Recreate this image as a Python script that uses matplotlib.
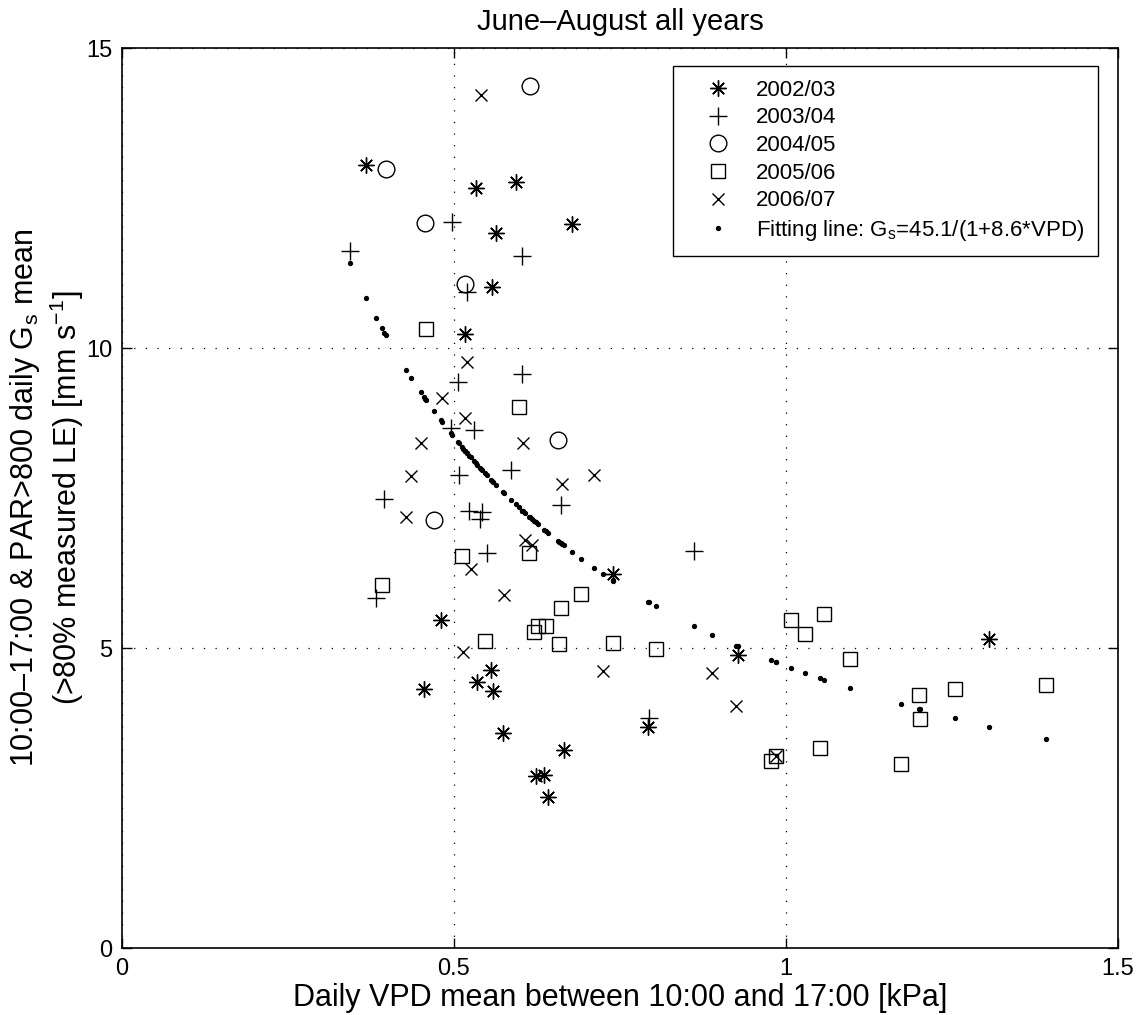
import numpy as np
import matplotlib
matplotlib.use("Agg")
import matplotlib.pyplot as plt

plt.rcParams['font.family'] = ['Liberation Sans', 'DejaVu Sans']
plt.rcParams['mathtext.fontset'] = 'custom'
plt.rcParams['mathtext.rm'] = 'Liberation Sans'
plt.rcParams['mathtext.it'] = 'Liberation Sans'
plt.rcParams['mathtext.default'] = 'regular'

# ---- data (VPD [kPa], Gs [mm s-1]) ----
vpd_0203 = [0.368, 0.533, 0.593, 0.678, 0.563, 0.558, 0.517, 0.739, 0.480, 0.556, 0.535,
            0.455, 0.559, 0.574, 0.665, 0.623, 0.636, 0.641, 0.792, 0.927, 1.306]
gs_0203 = [13.05, 12.66, 12.77, 12.07, 11.92, 11.01, 10.23, 6.24, 5.46, 4.63, 4.44,
           4.32, 4.28, 3.58, 3.30, 2.87, 2.89, 2.51, 3.69, 4.88, 5.15]

vpd_0304 = [0.497, 0.343, 0.603, 0.519, 0.603, 0.506, 0.495, 0.530, 0.507, 0.586, 0.395,
            0.661, 0.523, 0.542, 0.539, 0.549, 0.383, 0.861, 0.794]
gs_0304 = [12.10, 11.62, 11.54, 10.93, 9.56, 9.43, 8.66, 8.64, 7.88, 7.97, 7.49,
           7.38, 7.29, 7.26, 7.15, 6.58, 5.83, 6.61, 3.83]

vpd_0405 = [0.614, 0.397, 0.457, 0.517, 0.657, 0.470]
gs_0405 = [14.36, 12.98, 12.09, 11.07, 8.47, 7.13]

vpd_0506 = [0.458, 0.598, 0.613, 0.512, 0.391, 0.692, 0.661, 0.626, 0.638, 0.620, 0.546,
            0.658, 0.740, 0.804, 1.008, 1.058, 1.028, 1.096, 1.051, 0.985, 0.977, 1.391,
            1.254, 1.201, 1.202, 1.173]
gs_0506 = [10.31, 9.01, 6.59, 6.53, 6.05, 5.90, 5.66, 5.36, 5.36, 5.26, 5.11,
           5.06, 5.09, 4.99, 5.46, 5.57, 5.23, 4.82, 3.34, 3.20, 3.11, 4.39,
           4.32, 4.22, 3.81, 3.06]

vpd_0607 = [0.540, 0.520, 0.482, 0.517, 0.450, 0.604, 0.436, 0.663, 0.711, 0.428, 0.607,
            0.617, 0.525, 0.576, 0.514, 0.725, 0.889, 0.925, 0.985]
gs_0607 = [14.22, 9.76, 9.16, 8.83, 8.41, 8.42, 7.87, 7.74, 7.88, 7.19, 6.80,
           6.71, 6.32, 5.88, 4.93, 4.61, 4.58, 4.04, 3.20]

series_labels = ['2002/03', '2003/04', '2004/05', '2005/06', '2006/07']

# fitted model stated in the legend: Gs = a / (1 + b*VPD), evaluated at observed VPDs
fit_a = 45.1
fit_b = 8.6
fit_vpd = np.array(vpd_0203 + vpd_0304 + vpd_0405 + vpd_0506 + vpd_0607)
fit_gs = fit_a / (1 + fit_b * fit_vpd)

x_ticks = [0, 0.5, 1, 1.5]
x_ticklabels = ['0', '0.5', '1', '1.5']
y_ticks = [0, 5, 10, 15]

# ---- figure ----
fig = plt.figure(figsize=(11.38, 10.15), dpi=100)
ax = fig.add_axes([0.1072, 0.0660, 0.8752, 0.8867])

mk = dict(linestyle='none', color='black', markerfacecolor='none', markeredgewidth=1.0)
ax.plot(vpd_0203, gs_0203, marker=(8, 2, 0), markersize=11.5, label=series_labels[0], **mk)
ax.plot(vpd_0304, gs_0304, marker='+', markersize=13, label=series_labels[1], **mk)
ax.plot(vpd_0405, gs_0405, marker='o', markersize=12, label=series_labels[2], **mk)
ax.plot(vpd_0506, gs_0506, marker='s', markersize=10.5, label=series_labels[3], **mk)
ax.plot(vpd_0607, gs_0607, marker='x', markersize=9, label=series_labels[4], **mk)
ax.plot(fit_vpd, fit_gs, linestyle='none', marker='o', markersize=2.8, color='black',
        label=r'Fitting line: G$_\mathregular{s}$=45.1/(1+8.6*VPD)')

ax.set_xlim(0, 1.5)
ax.set_ylim(0, 15)
ax.set_xticks(x_ticks)
ax.set_xticklabels(x_ticklabels)
ax.set_yticks(y_ticks)
ax.tick_params(direction='in', length=7, width=1, top=True, right=True,
               labelsize=17, pad=7)
for s in ax.spines.values():
    s.set_linewidth(1.2)
ax.grid(True, linestyle=(0, (1, 8.3)), color='black', linewidth=0.9)

ax.set_title('June\u2013August all years', fontsize=21, pad=13)
ax.set_xlabel('Daily VPD mean between 10:00 and 17:00 [kPa]', fontsize=22, labelpad=2)
ax.set_ylabel('10:00\u201317:00 & PAR>800 daily G$_\\mathregular{s}$ mean\n'
              '(>80% measured LE) [mm s$^{-1}$]', fontsize=22, labelpad=0,
              linespacing=1.2)

leg = ax.legend(loc='upper right', bbox_to_anchor=(0.9795, 0.9795), fontsize=16,
                frameon=True, fancybox=False, edgecolor='black', framealpha=1,
                borderpad=0.6, labelspacing=0.3, handlelength=2.9, handletextpad=0.25,
                borderaxespad=0)
leg.get_frame().set_linewidth(1.0)

fig.savefig('out.png', dpi=100)
